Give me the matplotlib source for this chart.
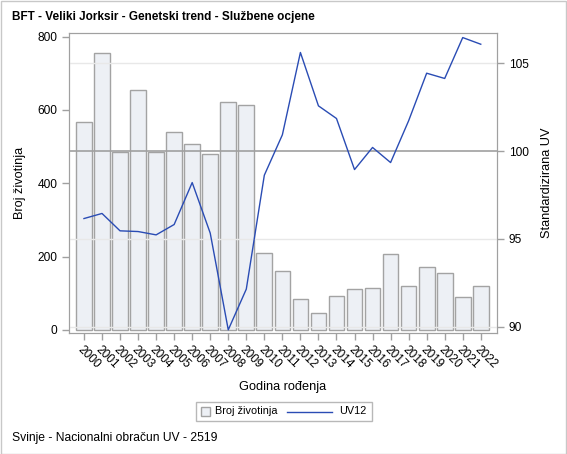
import numpy as np
import matplotlib.pyplot as plt
from matplotlib.patches import Rectangle
from matplotlib.lines import Line2D

plt.rcParams['font.family'] = ['Liberation Sans', 'DejaVu Sans']

years = [str(y) for y in range(2000, 2023)]
broj = [566, 756, 486, 654, 486, 539, 508, 479, 622, 613, 209, 160, 84,
        45, 94, 112, 114, 208, 119, 173, 155, 90, 119]
uv12 = [96.16, 96.45, 95.46, 95.42, 95.23, 95.82, 98.21, 95.33, 89.82, 92.14,
        98.63, 100.93, 105.62, 102.58, 101.86, 98.95, 100.21, 99.35, 101.73,
        104.44, 104.14, 106.47, 106.09]

bar_face = '#edf0f5'
bar_edge = '#a3a3a3'
line_col = '#2a4cb4'
axis_col = '#a0a0a0'

W, H = 567, 454
fig = plt.figure(figsize=(W / 100, H / 100), dpi=100)


def fx(px):
    return px / W


def fy(py):
    return 1 - py / H


ax = fig.add_axes([fx(69), fy(333), (497 - 69) / W, (333 - 33) / H])
ax2 = ax.twinx()

x = np.arange(len(years))
ax.bar(x, broj, width=0.87, color=bar_face, edgecolor=bar_edge, linewidth=1, zorder=2)
ax.set_xlim(-0.83, 22.9)
ax.set_ylim(-8.2, 810)
ax.set_yticks([0, 200, 400, 600, 800])

ax2.set_ylim(89.64, 106.73)
ax2.set_yticks([90, 95, 100, 105])
for v in [90, 95, 105]:
    ax2.axhline(v, color='#e8e8e8', linewidth=1, zorder=0)
ax2.axhline(100, color='#a0a0a0', linewidth=1.2, zorder=3)
ax2.plot(x, uv12, color=line_col, linewidth=1, zorder=4)
ax2.patch.set_visible(False)

ax.set_xticks(x)
ax.set_xticklabels(years, rotation=-45, ha='left', va='top', rotation_mode='anchor')
for a in (ax, ax2):
    for s in a.spines.values():
        s.set_color(axis_col)
    a.tick_params(colors=axis_col, labelcolor='black', labelsize=8.6, length=5, width=1)
ax.tick_params(axis='x', pad=3)

ax.set_xlabel('Godina rođenja', fontsize=9.2, labelpad=7)
ax.set_ylabel('Broj životinja', fontsize=9.2, labelpad=8)
ax2.set_ylabel('Standardizirana UV', fontsize=9.2, labelpad=9)

fig.text(fx(12), fy(17), 'BFT - Veliki Jorksir - Genetski trend - Službene ocjene',
         fontsize=8.5, fontweight='bold', va='center', ha='left')
fig.text(fx(12), fy(438), 'Svinje - Nacionalni obračun UV - 2519',
         fontsize=8.7, va='center', ha='left')

# legend drawn by hand (square swatch + long line, like SAS)
tf = fig.transFigure
fig.add_artist(Rectangle((fx(196), fy(421)), (372 - 196) / W, 19 / H, transform=tf,
                         fill=False, edgecolor='#b8b8b8', linewidth=1))
fig.add_artist(Rectangle((fx(201), fy(416)), 9 / W, 9 / H, transform=tf,
                         facecolor=bar_face, edgecolor=bar_edge, linewidth=1))
fig.text(fx(215), fy(411.5), 'Broj životinja', fontsize=7.8, va='center', ha='left')
fig.add_artist(Line2D([fx(287), fx(332)], [fy(411.5), fy(411.5)], transform=tf,
                      color=line_col, linewidth=1))
fig.text(fx(339), fy(411.5), 'UV12', fontsize=7.8, va='center', ha='left')

fig.add_artist(Rectangle((fx(0.5), fy(H - 0.5)), 1 - 1.5 / W, 1 - 1.5 / H, transform=tf,
                         fill=False, edgecolor='#c8c8c8', linewidth=1))

fig.savefig('out.png', dpi=100)
